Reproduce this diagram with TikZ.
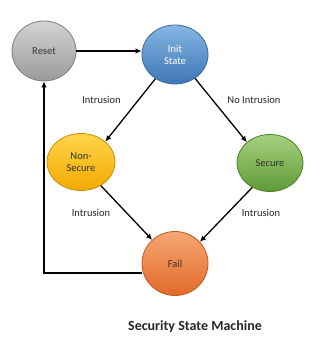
\documentclass[tikz,border=0pt]{standalone}
\usepackage{fontspec}
\setmainfont{Carlito}
\usetikzlibrary{shapes.geometric,arrows.meta}
\definecolor{resetT}{HTML}{D4D4D4}
\definecolor{resetB}{HTML}{9A9A9A}
\definecolor{resetD}{HTML}{7E7E7E}
\definecolor{initT}{HTML}{86B6E4}
\definecolor{initB}{HTML}{3E76B6}
\definecolor{initD}{HTML}{3A6AA0}
\definecolor{nonT}{HTML}{FFD54A}
\definecolor{nonB}{HTML}{F2A900}
\definecolor{nonD}{HTML}{C98E00}
\definecolor{secT}{HTML}{A6D07E}
\definecolor{secB}{HTML}{5F9B37}
\definecolor{secD}{HTML}{4E7E2E}
\definecolor{failT}{HTML}{F6A674}
\definecolor{failB}{HTML}{E2692A}
\definecolor{failD}{HTML}{BF5720}
\tikzset{
  state/.style={ellipse, inner sep=0pt, line width=0.8pt, font=\fontsize{10.5}{12}\selectfont, align=center},
  arrowline/.style={line width=1.3pt, -{Latex[length=6pt,width=5.5pt]}},
  lbl/.style={font=\fontsize{10.5}{12}\selectfont, text=black!85},
}
\begin{document}
\begin{tikzpicture}[x=1pt,y=-1pt]
\useasboundingbox (0,0) rectangle (335,344);
\node[state, minimum width=64pt, minimum height=60pt, top color=resetT, bottom color=resetB, draw=resetD, text=black!80] (reset) at (44,51) {Reset};
\node[state, minimum width=66pt, minimum height=59pt, top color=initT, bottom color=initB, draw=initD, text=white] (init) at (175,54.5) {Init\\State};
\node[state, minimum width=68pt, minimum height=57pt, top color=nonT, bottom color=nonB, draw=nonD, text=black!80] (nonsec) at (81,162) {Non-\\Secure};
\node[state, minimum width=66pt, minimum height=57pt, top color=secT, bottom color=secB, draw=secD, text=black!80] (secure) at (270,163) {Secure};
\node[state, minimum width=66pt, minimum height=64pt, top color=failT, bottom color=failB, draw=failD, text=black!80] (fail) at (175,263.5) {Fail};
\draw[arrowline] (reset.east) -- (reset.east -| init.west);
\draw[arrowline] (init.231) -- (nonsec.40);
\draw[arrowline] (init.310) -- (secure.138);
\draw[arrowline] (nonsec.310) -- (fail.134);
\draw[arrowline] (secure.234) -- (fail.41);
\draw[arrowline] ([yshift=-9.5pt]fail.west) -| (reset.south);
\node[lbl] (l1) at (101.5,100) {Intrusion};
\node[lbl] (l2) at (254,100) {No Intrusion};
\node[lbl] (l3) at (91,213) {Intrusion};
\node[lbl] (l4) at (261,213) {Intrusion};
\node[font=\bfseries\fontsize{14}{16}\selectfont, text=black!85] (title) at (195,327) {Security State Machine};
\end{tikzpicture}
\end{document}
